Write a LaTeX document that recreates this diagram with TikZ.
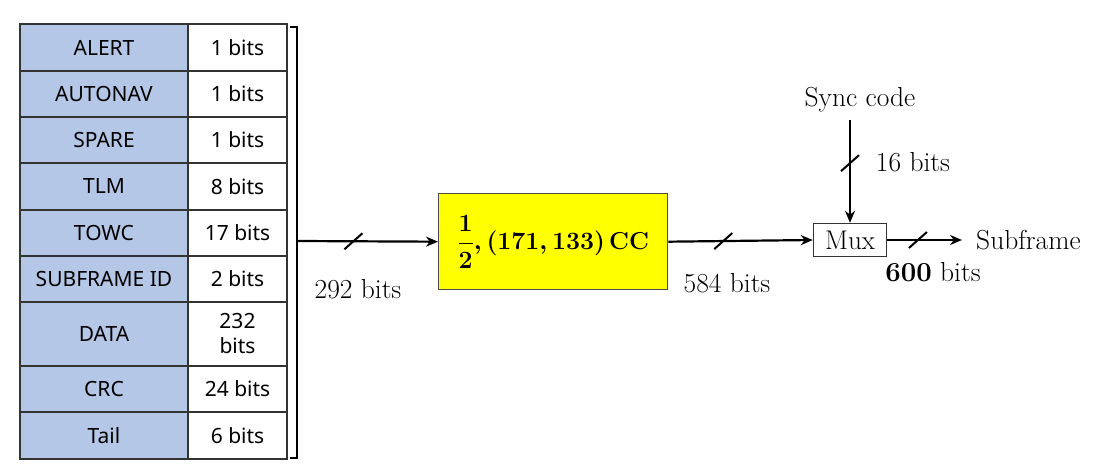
\documentclass[tikz,border=0pt]{standalone}
\usepackage{fontspec}
\newfontfamily\cellfont{Noto Sans}
\usetikzlibrary{arrows.meta,positioning}
\definecolor{fieldblue}{RGB}{180,199,231}
\definecolor{ccyellow}{RGB}{255,255,0}
\newcommand{\ccrate}{{\boldmath$\displaystyle\frac{1}{2},(171,133)$}\,\textbf{CC}}
\tikzset{
  field/.style={draw=black!80, line width=1.8pt, fill=fieldblue, minimum width=168pt,
    anchor=north west, inner sep=0pt, outer sep=0pt, align=center,
    font=\cellfont\fontsize{21}{25}\selectfont},
  bitcell/.style={field, fill=white, minimum width=99pt},
  ccbox/.style={draw=black!70, line width=1.4pt, fill=ccyellow, anchor=north west,
    minimum width=229pt, minimum height=96pt, inner sep=0pt, font=\fontsize{24.5}{27}\selectfont},
  muxbox/.style={draw=black!80, line width=1.4pt, minimum width=73pt, minimum height=33pt,
    inner sep=0pt, font=\fontsize{27}{29}\selectfont},
  flow/.style={line width=2.2pt, ->},
  lbl/.style={font=\fontsize{27.5}{30}\selectfont, inner sep=1pt},
  slash/.style={line width=2pt},
}
\begin{document}
\begin{tikzpicture}[x=1pt, y=-1pt, >={Stealth[length=12pt,width=10pt]}]
  \useasboundingbox (0,0) rectangle (1095,465);
  % frame fields
  \foreach \fname/\fbits/\ytop/\hgt [count=\i] in {ALERT/1 bits/24/47, AUTONAV/1 bits/71/46,
      SPARE/1 bits/117/46, TLM/8 bits/163/47, TOWC/17 bits/210/46, SUBFRAME ID/2 bits/256/46,
      DATA/{232\\bits}/302/64, CRC/24 bits/366/46, Tail/6 bits/412/47}{
    \node[field, minimum height=\hgt pt] (f\i) at (20,\ytop) {\fname};
    \node[bitcell, minimum height=\hgt pt] (b\i) at (188,\ytop) {\fbits};
  }
  \draw[line width=2pt] (290,27) -- (297,27) -- (297,458) -- (290,458);
  \coordinate (brmid) at (297,241);

  % encoder and mux
  \node[ccbox] (cc) at (438,193) {\ccrate};
  \node[muxbox] (mux) at (850,240) {Mux};
  \node[lbl] (sync) at (860,100) {Sync code};
  \coordinate (synctop) at (850,120);
  \node[lbl, anchor=west] (sub) at (975,240) {Subframe};

  % connectors
  \draw[flow] (brmid) -- coordinate[pos=0.4] (s1) (cc.west);
  \draw[flow] (cc.east) -- coordinate[pos=0.38] (s2) (mux.west);
  \draw[flow] (synctop) -- coordinate[pos=0.42] (s3) (mux.north);
  \draw[flow, shorten >=13pt] (mux.east) -- coordinate[pos=0.35] (s4) (sub.west);
  \foreach \s in {s1,s2,s3,s4}
    \draw[slash] ([shift={(-9,8)}]\s) -- ([shift={(9,-8)}]\s);

  % bit counts
  \node[lbl] (l1) at (358,289) {292 bits};
  \node[lbl] (l2) at (727,283) {584 bits};
  \node[lbl] (l3) at (913,162) {16 bits};
  \node[lbl] (l4) at (933,272) {\textbf{600} bits};
\end{tikzpicture}
\end{document}
